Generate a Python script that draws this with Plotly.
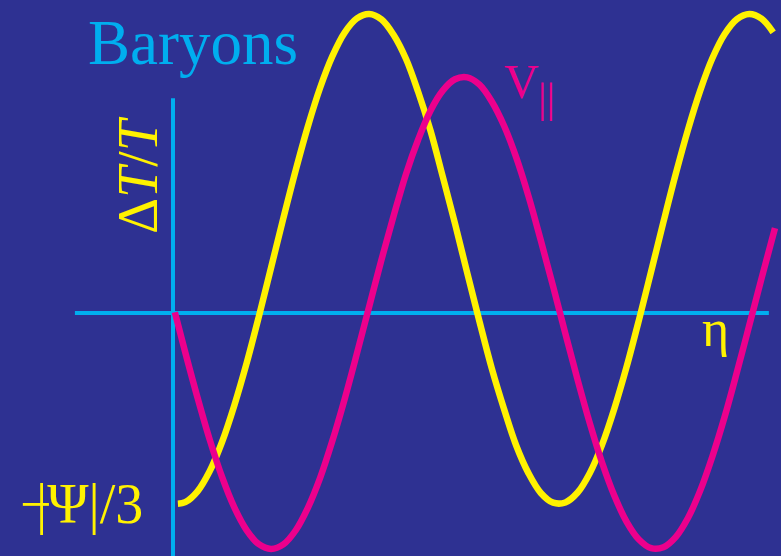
import plotly.graph_objects as go

# Conformal time samples (eta) and the temperature mode Delta T / T
eta_temp = [0.08, 0.2, 0.4, 0.6, 0.8, 1.0, 1.2, 1.4, 1.6, 1.8, 2.0, 2.2, 2.4,
            2.6, 2.8, 3.0, 3.2, 3.4, 3.6, 3.8, 4.0, 4.2, 4.4, 4.6, 4.8, 5.0,
            5.2, 5.4, 5.6, 5.8, 6.0, 6.2, 6.4, 6.6, 6.8, 7.0, 7.2, 7.4, 7.6,
            7.8, 8.0, 8.2, 8.4, 8.6, 8.8, 9.0, 9.2, 9.4, 9.6, 9.79]
delta_T = [-0.809, -0.802, -0.756, -0.670, -0.547, -0.392, -0.214, -0.016,
           0.192, 0.401, 0.603, 0.790, 0.954, 1.088, 1.188, 1.248, 1.267,
           1.244, 1.178, 1.077, 0.936, 0.773, 0.578, 0.379, 0.169, -0.037,
           -0.235, -0.407, -0.563, -0.680, -0.763, -0.804, -0.803, -0.761,
           -0.678, -0.558, -0.405, -0.228, -0.031, 0.176, 0.385, 0.588, 0.776,
           0.942, 1.080, 1.182, 1.245, 1.267, 1.247, 1.189]

# Baryon velocity mode V_parallel
eta_vel = [0.03, 0.2, 0.4, 0.6, 0.8, 1.0, 1.2, 1.4, 1.6, 1.8, 2.0, 2.2, 2.4,
           2.6, 2.8, 3.0, 3.2, 3.4, 3.6, 3.8, 4.0, 4.2, 4.4, 4.6, 4.8, 5.0,
           5.2, 5.4, 5.6, 5.8, 6.0, 6.2, 6.4, 6.6, 6.8, 7.0, 7.2, 7.4, 7.6,
           7.8, 8.0, 8.2, 8.4, 8.6, 8.8, 9.0, 9.2, 9.4, 9.6, 9.82]
v_par = [0.003, -0.167, -0.359, -0.538, -0.695, -0.824, -0.920, -0.980,
         -1.000, -0.981, -0.922, -0.826, -0.699, -0.542, -0.365, -0.172,
         0.027, 0.225, 0.412, 0.588, 0.735, 0.857, 0.942, 0.990, 0.998,
         0.967, 0.896, 0.793, 0.658, 0.494, 0.307, 0.113, -0.087, -0.283,
         -0.468, -0.635, -0.775, -0.885, -0.960, -0.997, -0.993, -0.950,
         -0.869, -0.753, -0.607, -0.439, -0.250, -0.053, 0.146, 0.359]

# Axis extents in data units
x_range = [-2.822, 9.918]
y_range = [-1.030, 1.326]
eta_axis = [-1.60, 9.72]
dT_axis = [-1.03, 0.91]

BG = "#2E3192"
CYAN = "#00AEEF"
YELLOW = "#FFF200"
MAGENTA = "#EC008C"
SERIF = "Liberation Serif, Times New Roman, serif"

fig = go.Figure()

# axes drawn as plain lines
fig.add_trace(go.Scatter(x=eta_axis, y=[0, 0], mode="lines",
                         line=dict(color=CYAN, width=4), hoverinfo="skip"))
fig.add_trace(go.Scatter(x=[0, 0], y=dT_axis, mode="lines",
                         line=dict(color=CYAN, width=4), hoverinfo="skip"))

fig.add_trace(go.Scatter(x=eta_temp, y=delta_T, mode="lines",
                         line=dict(color=YELLOW, width=6.5, shape="spline", smoothing=1.0)))
fig.add_trace(go.Scatter(x=eta_vel, y=v_par, mode="lines",
                         line=dict(color=MAGENTA, width=6.5, shape="spline", smoothing=1.0)))

W, H = 781, 556


def px(x, y):
    return dict(xref="paper", yref="paper", x=x / W, y=1 - y / H)


annotations = [
    dict(text="Baryons", font=dict(family=SERIF, size=63, color=CYAN),
         xanchor="left", yanchor="middle", **px(87, 43)),
    dict(text="Δ<i>T</i>/<i>T</i>", font=dict(family=SERIF, size=56, color=YELLOW),
         textangle=-90, xanchor="center", yanchor="middle", **px(138, 175)),
    dict(text="η", font=dict(family=SERIF, size=52, color=YELLOW),
         xanchor="center", yanchor="middle", **px(715, 328)),
    dict(text="V", font=dict(family=SERIF, size=48, color=MAGENTA),
         xanchor="center", yanchor="middle", **px(521, 82)),
    dict(text="||", font=dict(family=SERIF, size=42, color=MAGENTA),
         xanchor="center", yanchor="middle", **px(546, 98)),
    dict(text="|Ψ|/3", font=dict(family=SERIF, size=56, color=YELLOW),
         xanchor="left", yanchor="middle", **px(35, 504)),
    dict(text="−", font=dict(family=SERIF, size=56, color=YELLOW),
         xanchor="center", yanchor="middle", **px(36, 504)),
]
for a in annotations:
    a.update(showarrow=False, borderpad=0)

fig.update_layout(
    width=W, height=H,
    margin=dict(l=0, r=0, t=0, b=0),
    paper_bgcolor=BG, plot_bgcolor=BG,
    showlegend=False,
    xaxis=dict(range=x_range, visible=False, fixedrange=True),
    yaxis=dict(range=y_range, visible=False, fixedrange=True),
    annotations=annotations,
)

fig.write_html("out.html")
